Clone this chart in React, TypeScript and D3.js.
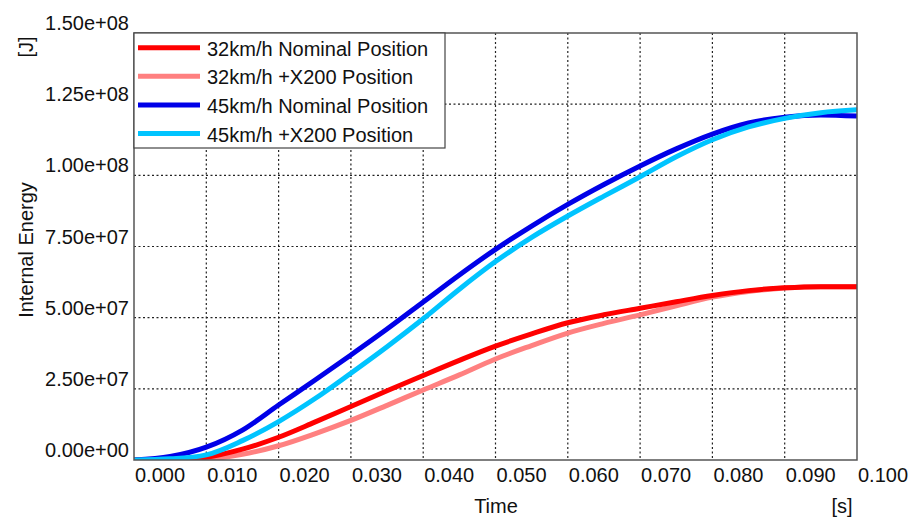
import React, { useEffect, useRef } from 'react';
import * as d3 from 'd3';

// time samples [s]
const times = [0, 0.005, 0.01, 0.015, 0.02, 0.025, 0.03, 0.035, 0.04, 0.045, 0.05, 0.055, 0.06, 0.065, 0.07, 0.075, 0.08, 0.085, 0.09, 0.095, 0.1];

// internal energy [J] (units of 1e7)
const nominal32 = [0, 0.02, 0.1, 0.38, 0.8, 1.33, 1.88, 2.43, 2.97, 3.5, 4.0, 4.43, 4.82, 5.1, 5.33, 5.56, 5.78, 5.95, 6.05, 6.09, 6.09];
const x200_32 = [0, 0.0, 0.03, 0.2, 0.5, 0.92, 1.39, 1.92, 2.46, 2.99, 3.55, 4.02, 4.46, 4.8, 5.1, 5.42, 5.72, 5.92, 6.04, 6.09, 6.09];
const nominal45 = [0, 0.12, 0.45, 1.05, 1.93, 2.8, 3.69, 4.6, 5.55, 6.5, 7.4, 8.22, 8.98, 9.68, 10.33, 10.93, 11.45, 11.84, 12.04, 12.12, 12.08];
const x200_45 = [0, 0.04, 0.18, 0.68, 1.35, 2.15, 3.05, 3.98, 4.96, 6.0, 6.97, 7.82, 8.57, 9.27, 9.95, 10.65, 11.25, 11.7, 12.0, 12.2, 12.3];

const seriesNames = ['32km/h Nominal Position', '32km/h +X200 Position', '45km/h Nominal Position', '45km/h +X200 Position'];
const seriesColors = ['#ff0000', '#ff8080', '#0000e8', '#00c4ff'];

const xTicks = [0, 0.01, 0.02, 0.03, 0.04, 0.05, 0.06, 0.07, 0.08, 0.09, 0.1];
const yTicks = [0, 2.5e7, 5e7, 7.5e7, 1e8, 1.25e8, 1.5e8];
const yTickLabels = ['0.00e+00', '2.50e+07', '5.00e+07', '7.50e+07', '1.00e+08', '1.25e+08', '1.50e+08'];

const FONT = '"Liberation Sans", Arial, sans-serif';

export default function App() {
  const ref = useRef<SVGSVGElement>(null);

  useEffect(() => {
    const svg = d3.select(ref.current);
    svg.selectAll('*').remove();

    var margin = { top: 33, right: 56, bottom: 58, left: 134 };
    var width = 913 - margin.left - margin.right;
    var height = 518 - margin.top - margin.bottom;

    var x = d3.scaleLinear().domain([0, 0.1]).range([0, width]);
    var y = d3.scaleLinear().domain([0, 1.5e8]).range([height, 0]);

    var g = svg.append('g').attr('transform', 'translate(' + margin.left + ',' + margin.top + ')');

    g.append('clipPath').attr('id', 'plotclip')
      .append('rect').attr('x', 0).attr('y', 0).attr('width', width).attr('height', height);

    // dotted grid
    g.selectAll('.vgrid').data(xTicks.slice(1, -1)).enter().append('line')
      .attr('x1', d => x(d)).attr('x2', d => x(d))
      .attr('y1', 0).attr('y2', height)
      .attr('stroke', '#222').attr('stroke-width', 1.2).attr('stroke-dasharray', '2,2.5');
    g.selectAll('.hgrid').data(yTicks.slice(1, -1)).enter().append('line')
      .attr('x1', 0).attr('x2', width)
      .attr('y1', d => y(d)).attr('y2', d => y(d))
      .attr('stroke', '#222').attr('stroke-width', 1.2).attr('stroke-dasharray', '2,2.5');

    // curves (light ones under the dark partner, as in the original)
    const all = [nominal32, x200_32, nominal45, x200_45];
    const order = [1, 0, 2, 3];
    var line = d3.line<number>()
      .x((d, i) => x(times[i]))
      .y(d => y(d * 1e7))
      .curve(d3.curveMonotoneX);
    order.forEach(k => {
      g.append('path')
        .attr('d', line(all[k]))
        .attr('fill', 'none')
        .attr('stroke', seriesColors[k])
        .attr('stroke-width', 5)
        .attr('clip-path', 'url(#plotclip)');
    });

    // frame
    g.append('rect').attr('x', 0).attr('y', 0).attr('width', width).attr('height', height)
      .attr('fill', 'none').attr('stroke', '#555').attr('stroke-width', 1.5);

    // tick labels
    g.selectAll('.xlab').data(xTicks).enter().append('text')
      .attr('x', d => x(d) + 1).attr('y', height + 22)
      .attr('font-family', FONT).attr('font-size', 20).attr('fill', '#111')
      .text(d => d.toFixed(3));
    g.selectAll('.ylab').data(yTicks).enter().append('text')
      .attr('x', -5).attr('y', d => y(d) - 3)
      .attr('text-anchor', 'end')
      .attr('font-family', FONT).attr('font-size', 20).attr('fill', '#111')
      .text((d, i) => yTickLabels[i]);

    // axis titles
    svg.append('text').attr('x', 496).attr('y', 513).attr('text-anchor', 'middle')
      .attr('font-family', FONT).attr('font-size', 20).attr('fill', '#111').text('Time');
    svg.append('text').attr('x', 842).attr('y', 513).attr('text-anchor', 'middle')
      .attr('font-family', FONT).attr('font-size', 20).attr('fill', '#111').text('[s]');
    svg.append('text').attr('transform', 'translate(33,250) rotate(-90)').attr('text-anchor', 'middle')
      .attr('font-family', FONT).attr('font-size', 20).attr('fill', '#111').text('Internal Energy');
    svg.append('text').attr('transform', 'translate(33,47) rotate(-90)').attr('text-anchor', 'middle')
      .attr('font-family', FONT).attr('font-size', 20).attr('fill', '#111').text('[J]');

    // legend
    var lg = g.append('g');
    lg.append('rect').attr('x', 0).attr('y', 0).attr('width', 311).attr('height', 115)
      .attr('fill', '#fff').attr('stroke', '#444').attr('stroke-width', 1.2);
    seriesNames.forEach((name, i) => {
      var cy = 14.7 + i * 28.6;
      lg.append('line').attr('x1', 4).attr('x2', 66).attr('y1', cy).attr('y2', cy)
        .attr('stroke', seriesColors[i]).attr('stroke-width', 5);
      lg.append('text').attr('x', 73).attr('y', cy + 8)
        .attr('font-family', FONT).attr('font-size', 20).attr('fill', '#111').text(name);
    });
  }, []);

  return (
    <svg ref={ref} width={913} height={518}
      style={{ position: 'absolute', left: 0, top: 0, background: '#fff' }} />
  );
}
